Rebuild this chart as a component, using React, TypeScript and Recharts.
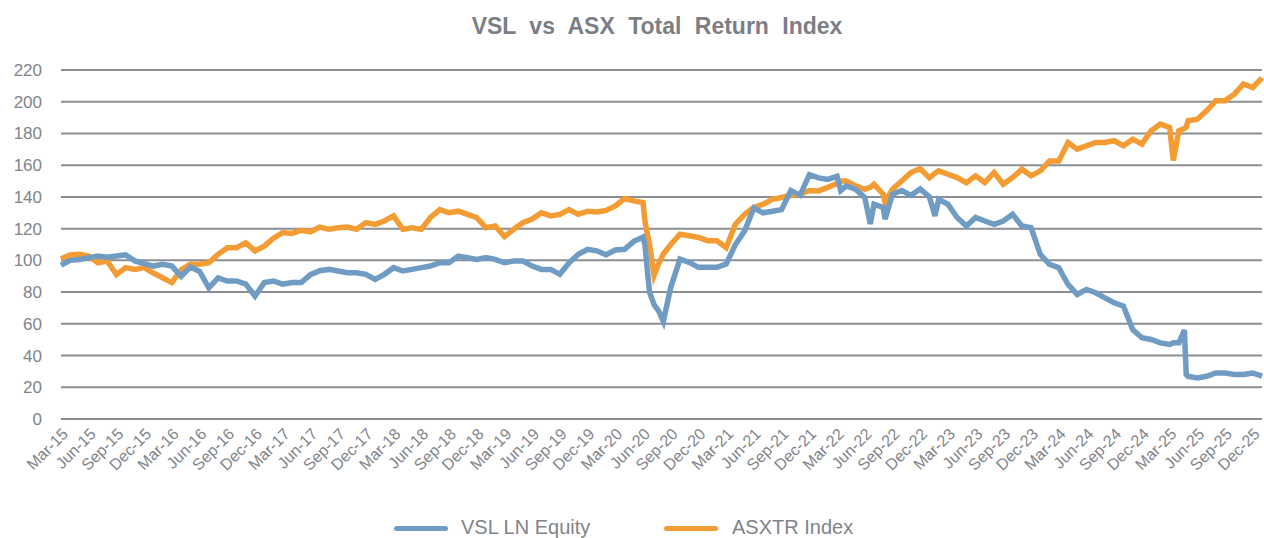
import { LineChart, Line, XAxis, YAxis, CartesianGrid } from "recharts";

// month offsets from Mar-15 (fractional ones mark sharp moves)
const months = [
  0, 1, 2, 3, 4, 5, 6, 7, 8, 9, 10, 11, 12, 13, 14, 15, 16, 17, 18, 19, 20, 21, 22, 23, 24, 25, 26, 27, 28, 29,
  30, 31, 32, 33, 34, 35, 36, 37, 38, 39, 40, 41, 42, 43, 44, 45, 46, 47, 48, 49, 50, 51, 52, 53, 54, 55, 56, 57, 58, 59,
  60, 61, 62, 63, 63.2, 63.7, 64.2, 64.7, 65.2, 66, 67, 68, 69, 70, 71, 72, 73, 74, 75, 76, 77, 78, 79, 80, 81, 82, 83, 84,
  84.4, 85, 86, 87, 87.6, 88, 89, 89.2, 90, 91, 92, 93, 94, 94.6, 95, 96, 97, 98, 99, 100, 101, 102, 103, 104, 105, 106, 107,
  108, 109, 110, 111, 112, 113, 114, 115, 116, 117, 118, 119, 120, 120.4, 121, 121.6, 121.8, 122, 123, 124, 125, 126, 127,
  128, 129, 130,
];

const vsl = [
  97, 100, 100.6, 101.7, 102.7, 102, 102.7, 103.4, 99.6, 97.9, 96.4, 97.5, 96.4, 90, 95.8, 93, 82.7, 89, 87, 87, 85, 77.5, 86, 87, 85, 86, 86, 91, 93.5, 94.3,
  93.3, 92.2, 92.2, 91.2, 88, 91.2, 95.4, 93.3, 94.3, 95.4, 96.4, 98.5, 98.5, 102.7, 101.7, 100.6, 101.7, 100.6, 98.5, 99.6, 99.6, 96.4, 94.3, 94.3, 91.2, 98.5, 103.8, 107, 106, 103.5,
  106.5, 107, 112, 114.6, 110, 80, 72, 68, 61.5, 83, 100.8, 98.7, 95.6, 95.6, 95.6, 97.7, 110, 118.6, 133, 130, 131, 132, 144, 141, 154, 152, 151, 153,
  144, 147, 144.8, 139.6, 123, 135.4, 133.3, 126, 141.7, 144, 141, 145, 140, 128, 138.5, 135.4, 127, 121.7, 127, 124.8, 122.7, 124.8, 129, 121.7, 120.6, 103.8, 97.5,
  95.4, 84.8, 78.5, 81.7, 79.6, 76.4, 73.3, 71.2, 56.4, 51.2, 50.1, 48, 47, 48, 48, 56, 28, 26.9, 25.9, 26.9, 29, 29, 28,
  28, 29, 27,
];

const asx = [
  101, 103.4, 103.8, 102.7, 98.5, 99.6, 91, 95.4, 94.3, 95.4, 92, 89, 86, 94, 97.5, 97.5, 98.5, 103.8, 108, 108, 111, 106, 109, 114, 117.5, 117, 119, 118, 121, 119.6,
  120.6, 121, 119.6, 123.8, 122.7, 124.8, 128, 119.6, 120.6, 119.6, 127, 132, 130, 131, 129, 127, 120.6, 121.7, 115, 119.6, 123.8, 126, 130, 128, 129, 132, 129, 131, 130.5, 131.5,
  134.3, 139, 137.5, 136.4, 125, 110, 90.5, 98, 104, 110, 116.5, 115.5, 114.4, 112.4, 112.4, 108, 122.8, 129, 133.3, 135.4, 138.5, 139.6, 141, 141.7, 144, 143.8, 146, 148.5,
  150, 150, 147, 144.8, 146, 148, 141.7, 136.4, 144.8, 150, 155.4, 157.8, 152, 155, 156.4, 154.3, 152.2, 149, 153.3, 149, 155.4, 148, 152.2, 157.5, 153.3, 156.4, 162.7,
  162.7, 174.3, 170.1, 172.2, 174.3, 174.3, 175.4, 172.2, 176.4, 173.3, 181.7, 185.9, 183.8, 163, 181.7, 183, 184, 188, 189, 194.3, 200.6, 200.6, 204.8,
  211.2, 209, 215,
];

const quarterLabels = [
  "Mar-15", "Jun-15", "Sep-15", "Dec-15", "Mar-16", "Jun-16", "Sep-16", "Dec-16", "Mar-17", "Jun-17", "Sep-17", "Dec-17",
  "Mar-18", "Jun-18", "Sep-18", "Dec-18", "Mar-19", "Jun-19", "Sep-19", "Dec-19", "Mar-20", "Jun-20", "Sep-20", "Dec-20",
  "Mar-21", "Jun-21", "Sep-21", "Dec-21", "Mar-22", "Jun-22", "Sep-22", "Dec-22", "Mar-23", "Jun-23", "Sep-23", "Dec-23",
  "Mar-24", "Jun-24", "Sep-24", "Dec-24", "Mar-25", "Jun-25", "Sep-25", "Dec-25",
];

const yTicks = [0, 20, 40, 60, 80, 100, 120, 140, 160, 180, 200, 220];

const data = months.map((t, i) => ({ t, vsl: vsl[i], asx: asx[i] }));
const xTicks = quarterLabels.map((_, i) => i * 3);

const BLUE = "#709cc4";
const ORANGE = "#f39c34";
const TEXT = "#7f8489";
const FONT = "'Liberation Sans', Arial, sans-serif";

export default function App() {
  return (
    <div style={{ position: "absolute", left: 0, top: 0, width: 1264, height: 538, overflow: "hidden", background: "#fff", fontFamily: FONT }}>
      <div
        style={{
          position: "absolute",
          left: 0,
          top: 15,
          width: 1314,
          textAlign: "center",
          fontSize: 23,
          lineHeight: "23px",
          fontWeight: "bold",
          color: "#7b7f85",
          wordSpacing: 7,
        }}
      >
        VSL vs ASX Total Return Index
      </div>

      <LineChart width={1264} height={538} data={data} margin={{ top: 70, right: 2, left: 0, bottom: 49 }}>
        <CartesianGrid vertical={false} stroke="#8b8f93" strokeWidth={2} />
        <XAxis
          type="number"
          dataKey="t"
          domain={[0, 130]}
          ticks={xTicks}
          interval={0}
          tickFormatter={(v) => quarterLabels[Math.round(v / 3)]}
          angle={-45}
          textAnchor="end"
          axisLine={false}
          tickLine={false}
          height={70}
          tick={{ fontSize: 16, fill: TEXT, fontFamily: FONT }}
        />
        <YAxis
          domain={[0, 220]}
          ticks={yTicks}
          interval={0}
          axisLine={false}
          tickLine={false}
          width={61}
          tickMargin={13}
          tick={{ fontSize: 17, fill: TEXT, fontFamily: FONT }}
        />
        <Line type="linear" dataKey="asx" stroke={ORANGE} strokeWidth={5.5} dot={false} isAnimationActive={false} />
        <Line type="linear" dataKey="vsl" stroke={BLUE} strokeWidth={5.5} dot={false} isAnimationActive={false} />
      </LineChart>

      <div style={{ position: "absolute", left: 394, top: 525.5, width: 54, height: 5, borderRadius: 3, background: BLUE }} />
      <div style={{ position: "absolute", left: 461, top: 517, fontSize: 20, lineHeight: "20px", color: TEXT, whiteSpace: "nowrap" }}>
        VSL LN Equity
      </div>
      <div style={{ position: "absolute", left: 664, top: 525.5, width: 54, height: 5, borderRadius: 3, background: ORANGE }} />
      <div style={{ position: "absolute", left: 732, top: 517, fontSize: 20, lineHeight: "20px", color: TEXT, whiteSpace: "nowrap" }}>
        ASXTR Index
      </div>
    </div>
  );
}
